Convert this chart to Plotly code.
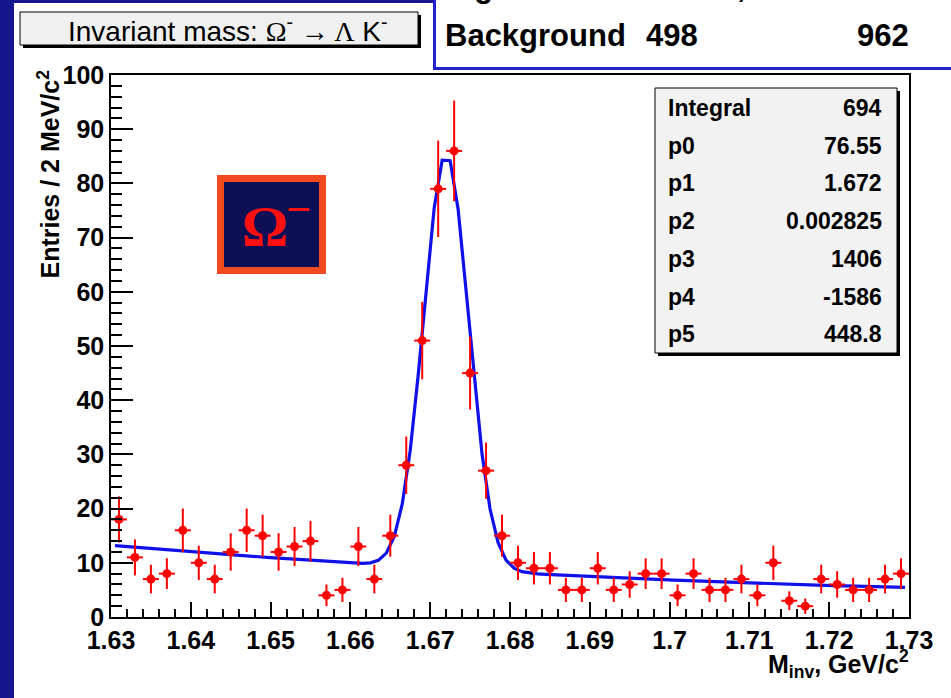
import numpy as np
import plotly.graph_objects as go

# Histogram: 50 bins of 2 MeV/c^2 between 1.63 and 1.73 GeV/c^2
bin_lo = 1.63
bin_width = 0.002
counts = [18, 11, 7, 8, 16, 10, 7, 12, 16, 15,
          12, 13, 14, 4, 5, 13, 7, 15, 28, 51,
          79, 86, 45, 27, 15, 10, 9, 9, 5, 5,
          9, 5, 6, 8, 8, 4, 8, 5, 5, 7,
          4, 10, 3, 2, 7, 6, 5, 5, 7, 8]

# Fit: gaussian + 2nd order polynomial background
stat_names = ["Integral", "p0", "p1", "p2", "p3", "p4", "p5"]
stat_values = ["694", "76.55", "1.672", "0.002825", "1406", "-1586", "448.8"]
p0, p1, p2, p3, p4, p5 = 76.55, 1.672, 0.002825, 1406, -1586, 448.8
fit_lo, fit_hi, fit_npx = 1.6305, 1.7295, 100

x_ticks = [1.63, 1.64, 1.65, 1.66, 1.67, 1.68, 1.69, 1.70, 1.71, 1.72, 1.73]
x_ticktext = ["1.63", "1.64", "1.65", "1.66", "1.67", "1.68", "1.69", "1.7", "1.71", "1.72", "1.73"]

centers = bin_lo + bin_width * (np.arange(len(counts)) + 0.5)
y = np.array(counts, dtype=float)
yerr = np.sqrt(y)
xerr = np.full(len(counts), bin_width / 2)

xf = np.linspace(fit_lo, fit_hi, fit_npx)
yf = p0 * np.exp(-0.5 * ((xf - p1) / p2) ** 2) + p3 + p4 * xf + p5 * xf ** 2

W, H = 951, 698
L, R, T, B = 111, 909, 75, 617


def fx(p):
    return (p - L) / (R - L)


def fy(p):
    return (B - p) / (B - T)


fig = go.Figure()
fig.add_trace(go.Scatter(
    x=xf, y=yf, mode="lines",
    line=dict(color="#1010e8", width=3.2),
    hoverinfo="skip", showlegend=False))
fig.add_trace(go.Scatter(
    x=centers, y=y, mode="markers",
    marker=dict(color="#ff0000", size=9, symbol="circle"),
    error_y=dict(type="data", array=yerr, color="#ff0000", thickness=2, width=0),
    error_x=dict(type="data", array=xerr, color="#ff0000", thickness=2, width=0),
    showlegend=False))

shapes = []


def box(x0, y0, x1, y1, fill, line_color=None, line_width=0, layer="above"):
    shapes.append(dict(
        type="rect", xref="paper", yref="paper",
        x0=fx(x0), x1=fx(x1), y0=fy(y1), y1=fy(y0),
        fillcolor=fill, layer=layer,
        line=dict(color=line_color or fill, width=line_width)))


# page frame
box(-5, -5, 14, H + 5, "#16168e")
box(14, -5, 434, 3, "#16168e")
box(434.5, -10, W + 10, 68.5, "white", "#2222cc", 3)

# title pave with shadow
box(23, 15, 421, 48, "black")
box(20, 12, 418, 45, "#f0f0f0", "black", 1)

# stats pave with shadow
box(658, 91, 900, 356, "black")
box(655, 88, 897, 353, "#f2f2f2", "black", 1)

# Omega label
box(217, 175, 326, 274, "#f04a20")
box(224, 182, 319, 267, "#0d0f55")

ann = []


def text(x, yv, s, size, xanchor="center", yanchor="middle", color="black",
         family="Liberation Sans", angle=0):
    ann.append(dict(
        x=fx(x), y=fy(yv), xref="paper", yref="paper", text=s, showarrow=False,
        xanchor=xanchor, yanchor=yanchor, textangle=angle,
        font=dict(size=size, color=color, family=family)))


serif = "font-family:'Liberation Serif'"
text(228, 29,
     f"Invariant mass: <span style=\"{serif}\">Ω</span><sup>-</sup> "
     f"<span style=\"{serif}\">→ Λ</span> K<sup>-</sup>", 28)

# table rows in the upper right box
text(443, 36, "<b>Background</b>", 31, xanchor="left")
text(672, 36, "<b>498</b>", 31)
text(883, 36, "<b>962</b>", 31)
text(443, -13, "<b>Significance</b>", 31, xanchor="left")
text(720, -13, "<b>7.0,</b>", 31)

for i, (n, v) in enumerate(zip(stat_names, stat_values)):
    yy = 108 + 37.7 * i
    text(666, yy, f"<b>{n}</b>", 23, xanchor="left")
    text(884, yy, f"<b>{v}</b>", 23, xanchor="right")

text(265, 226, "<b>Ω</b>", 58, color="#ff1010", family="Liberation Serif")
text(298, 209, "<b>−</b>", 44, color="#ff1010", family="Liberation Serif")

text(48, 68, "<b>Entries / 2 MeV/c<sup>2</sup></b>", 25, yanchor="top", angle=-90)
text(911, 664, "<b>M<sub>inv</sub>, GeV/c<sup>2</sup></b>", 25, xanchor="right")

tickfont = dict(family="Liberation Sans", size=25, color="black", weight="bold")
fig.update_layout(
    width=W, height=H,
    margin=dict(l=L, r=W - R, t=T, b=H - B, pad=0),
    paper_bgcolor="white", plot_bgcolor="white",
    shapes=shapes, annotations=ann,
    xaxis=dict(
        range=[1.63, 1.73], tickvals=x_ticks, ticktext=x_ticktext,
        ticks="inside", ticklen=15, tickwidth=1.5, tickcolor="black",
        minor=dict(dtick=0.002, tick0=1.63, ticklen=8, tickwidth=1.5,
                   tickcolor="black", ticks="inside"),
        showline=True, linecolor="black", linewidth=1.5, mirror=True,
        showgrid=False, zeroline=False, tickfont=tickfont),
    yaxis=dict(
        range=[0, 100], dtick=10, tick0=0,
        ticks="inside", ticklen=22, tickwidth=1.5, tickcolor="black",
        minor=dict(dtick=2, tick0=0, ticklen=11, tickwidth=1.5,
                   tickcolor="black", ticks="inside"),
        showline=True, linecolor="black", linewidth=1.5, mirror=True,
        showgrid=False, zeroline=False, tickfont=tickfont),
)

fig.write_html("out.html")
